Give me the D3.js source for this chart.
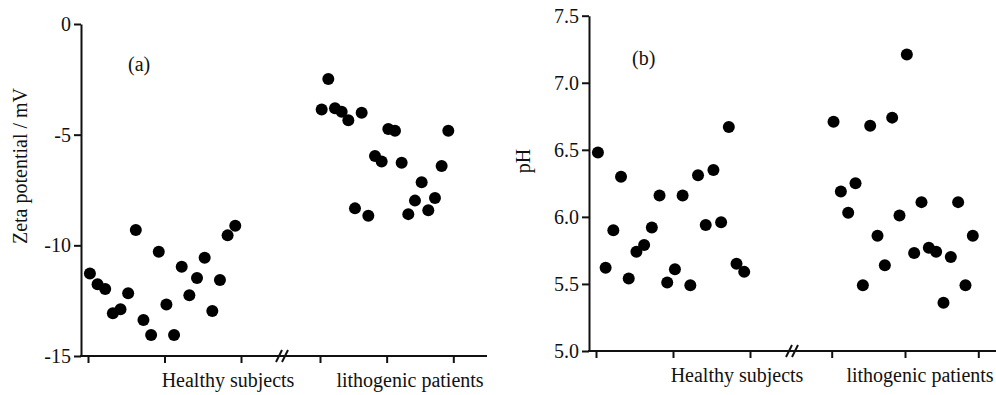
<!DOCTYPE html>
<html>
<head>
<meta charset="utf-8">
<script src="https://cdn.jsdelivr.net/npm/d3@7"></script>
<style>
  body { margin: 0; background: #fff; }
  svg { display: block; }
</style>
</head>
<body>
<svg id="chart" width="996" height="395"></svg>
<script>
const FONT = "'Liberation Serif', 'Times New Roman', serif";

// groups on the x axis
const categories = ["Healthy subjects", "lithogenic patients"];
const subjectTicks = [0, 10, 20];

// (a) zeta potential, mV, one value per subject
const zetaHealthy = [-11.27, -11.76, -11.97, -13.07, -12.89, -12.17, -9.31, -13.37, -14.05, -10.29,
                     -12.67, -14.05, -10.97, -12.26, -11.48, -10.56, -12.97, -11.57, -9.55, -9.11];
const zetaLithogenic = [-3.86, -2.49, -3.81, -3.96, -4.35, -8.33, -4.01, -8.66, -5.96, -6.21,
                        -4.74, -4.82, -6.27, -8.59, -7.98, -7.15, -8.42, -7.86, -6.42, -4.82];
const zetaTicks = [-15, -10, -5, 0];

// (b) pH, one value per subject
const phHealthy = [6.48, 5.62, 5.90, 6.30, 5.54, 5.74, 5.79, 5.92, 6.16, 5.51,
                   5.61, 6.16, 5.49, 6.31, 5.94, 6.35, 5.96, 6.67, 5.65, 5.59];
const phLithogenic = [6.71, 6.19, 6.03, 6.25, 5.49, 6.68, 5.86, 5.64, 6.74, 6.01,
                      7.21, 5.73, 6.11, 5.77, 5.74, 5.36, 5.70, 6.11, 5.49, 5.86];
const phTicks = [5.0, 5.5, 6.0, 6.5, 7.0, 7.5];

const svg = d3.select("#chart");

function drawPanel(p) {
  const g = svg.append("g");
  const y = d3.scaleLinear().domain(p.domain).range([p.bottom, p.top]);
  const xs = p.xRanges.map(r => d3.scaleLinear().domain([0, 20]).range(r));

  // y axis
  const yAxis = g.append("g")
      .attr("transform", `translate(${p.left},0)`)
      .call(d3.axisLeft(y).tickValues(p.yTicks).tickFormat(p.fmt)
        .tickSize(7).tickSizeOuter(0).tickPadding(3));
  yAxis.attr("font-family", null);
  yAxis.select(".domain").attr("stroke", "#111").attr("stroke-width", 2);
  yAxis.selectAll(".tick line").attr("stroke", "#111").attr("stroke-width", 2);
  yAxis.selectAll(".tick text")
      .style("font-family", FONT).style("font-size", "20px").attr("fill", "#111");

  // x axis baseline (continuous, with break mark)
  g.append("line")
      .attr("x1", p.left - 1).attr("x2", p.right)
      .attr("y1", p.bottom).attr("y2", p.bottom)
      .attr("stroke", "#111").attr("stroke-width", 2);

  xs.forEach(x => {
    const ax = g.append("g")
        .attr("transform", `translate(0,${p.bottom})`)
        .call(d3.axisBottom(x).tickValues(subjectTicks).tickFormat("").tickSize(7).tickSizeOuter(0));
    ax.select(".domain").remove();
    ax.selectAll(".tick line").attr("stroke", "#111").attr("stroke-width", 2);
  });

  // break mark "//"
  [-3, 3].forEach(d => {
    g.append("line")
        .attr("x1", p.brk + d - 3).attr("y1", p.bottom + 6)
        .attr("x2", p.brk + d + 3).attr("y2", p.bottom - 6)
        .attr("stroke", "#111").attr("stroke-width", 2);
  });

  // points
  p.series.forEach((vals, k) => {
    g.append("g").selectAll("circle")
      .data(vals)
      .join("circle")
        .attr("cx", (d, i) => xs[k](i + 0.25))
        .attr("cy", d => y(d))
        .attr("r", 6)
        .attr("fill", "#000");
  });

  // category labels
  categories.forEach((c, k) => {
    g.append("text")
        .attr("x", p.catX[k]).attr("y", p.bottom + 31)
        .attr("text-anchor", "middle")
        .style("font-family", FONT).style("font-size", "20px").attr("fill", "#111")
        .text(c);
  });

  // y title
  g.append("text")
      .attr("transform", `translate(${p.titleX},${p.titleY}) rotate(-90)`)
      .attr("text-anchor", "middle")
      .style("font-family", FONT).style("font-size", "20px").attr("fill", "#111")
      .text(p.title);

  // panel tag
  g.append("text")
      .attr("x", p.tag[0]).attr("y", p.tag[1])
      .style("font-family", FONT).style("font-size", "20px").attr("fill", "#111")
      .text(p.tagText);
}

drawPanel({
  domain: [-15, 0], yTicks: zetaTicks, fmt: d => String(d),
  left: 81, right: 487, top: 24, bottom: 356,
  xRanges: [[88, 241], [320, 453.3]], brk: 282,
  series: [zetaHealthy, zetaLithogenic],
  catX: [228, 410],
  title: "Zeta potential / mV", titleX: 27, titleY: 166,
  tag: [128, 71], tagText: "(a)"
});

drawPanel({
  domain: [5, 7.5], yTicks: phTicks, fmt: d3.format(".1f"),
  left: 589, right: 996, top: 15.7, bottom: 351,
  xRanges: [[596, 750], [831.7, 978.3]], brk: 792,
  series: [phHealthy, phLithogenic],
  catX: [737, 920],
  title: "pH", titleX: 530, titleY: 161,
  tag: [632, 65], tagText: "(b)"
});
</script>
</body>
</html>
